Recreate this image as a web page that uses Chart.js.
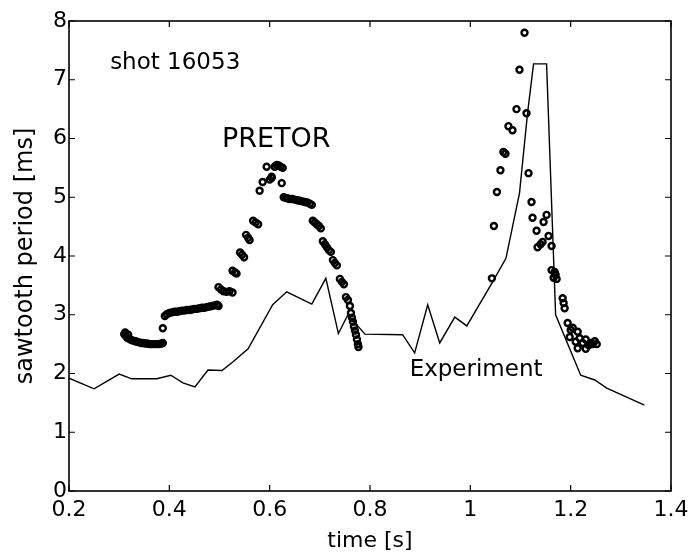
<!DOCTYPE html>
<html>
<head>
<meta charset="utf-8">
<script src="https://cdn.jsdelivr.net/npm/chart.js@4/dist/chart.umd.min.js"></script>
<style>
  html, body { margin: 0; padding: 0; background: #fff; }
  #wrap { width: 695px; height: 556px; }
</style>
</head>
<body>
<div id="wrap"><canvas id="sawtooth-chart" width="695" height="556"></canvas></div>
<script>
// Axis ticks
const xTicks = [0.2, 0.4, 0.6, 0.8, 1, 1.2, 1.4];
const yTicks = [0, 1, 2, 3, 4, 5, 6, 7, 8];

// Experiment (solid line)
const expTime = [0.200, 0.250, 0.300, 0.325, 0.375, 0.403, 0.427, 0.451, 0.477, 0.505,
    0.527, 0.557, 0.606, 0.634, 0.684, 0.712, 0.737, 0.756, 0.790, 0.865,
    0.889, 0.915, 0.939, 0.969, 0.993, 1.043, 1.071, 1.098, 1.114, 1.126,
    1.152, 1.170, 1.220, 1.248, 1.272, 1.347];
const expPeriod = [1.92, 1.74, 1.99, 1.91, 1.91, 1.97, 1.84, 1.77, 2.06, 2.05,
    2.20, 2.42, 3.17, 3.39, 3.18, 3.62, 2.68, 3.00, 2.67, 2.66,
    2.35, 3.17, 2.52, 2.96, 2.81, 3.54, 3.96, 5.07, 6.43, 7.27,
    7.27, 3.00, 1.97, 1.89, 1.75, 1.46];

// PRETOR simulation (open circles)
const pretorTime = [
    // first cluster
    0.310, 0.312, 0.313, 0.316, 0.318, 0.320, 0.324, 0.328, 0.332, 0.336, 0.340, 0.344,
    0.348, 0.352, 0.356, 0.360, 0.364, 0.368, 0.372, 0.376, 0.380, 0.384, 0.387,
    0.387,
    // second cluster
    0.391, 0.395, 0.400, 0.405, 0.410, 0.415, 0.420, 0.425, 0.430, 0.435, 0.440, 0.445,
    0.450, 0.455, 0.460, 0.465, 0.470, 0.475, 0.480, 0.485, 0.490, 0.495, 0.498,
    // rise
    0.498, 0.503, 0.508, 0.514, 0.520, 0.526,
    0.526, 0.531, 0.534,
    0.541, 0.545, 0.549,
    0.553, 0.557, 0.560,
    0.567, 0.572, 0.577,
    // first peak
    0.580, 0.586, 0.594, 0.600, 0.604, 0.604, 0.610, 0.614, 0.618, 0.622, 0.626, 0.624,
    // fall
    0.628, 0.632, 0.636, 0.640, 0.645, 0.650, 0.655, 0.660, 0.665, 0.670, 0.675, 0.680, 0.684,
    0.686, 0.690, 0.694, 0.698, 0.702,
    0.706, 0.710, 0.714, 0.718, 0.722,
    0.726, 0.730, 0.734,
    0.740, 0.744, 0.748,
    0.752, 0.756, 0.760,
    0.762, 0.764, 0.766, 0.768, 0.770, 0.772, 0.774, 0.776, 0.777,
    // second peak
    1.043, 1.047, 1.053, 1.060, 1.066, 1.070, 1.076, 1.084, 1.092, 1.098, 1.108, 1.112,
    1.116, 1.122, 1.124, 1.132, 1.134, 1.140, 1.144, 1.146, 1.152, 1.156, 1.162,
    // decay
    1.162, 1.166, 1.168, 1.170, 1.172,
    1.184, 1.186, 1.188,
    1.194, 1.200, 1.204, 1.198, 1.210, 1.214, 1.218, 1.224, 1.230, 1.236, 1.240, 1.244,
    1.248, 1.252, 1.214, 1.230
];
const pretorPeriod = [
    2.67, 2.70, 2.64, 2.61, 2.66, 2.59, 2.57, 2.56, 2.55, 2.54, 2.53, 2.52,
    2.52, 2.51, 2.51, 2.50, 2.50, 2.50, 2.50, 2.50, 2.50, 2.51, 2.52,
    2.77,
    2.98, 3.01, 3.03, 3.04, 3.05, 3.05, 3.06, 3.07, 3.07, 3.08, 3.08, 3.09,
    3.10, 3.10, 3.11, 3.12, 3.12, 3.13, 3.14, 3.15, 3.16, 3.17, 3.15,
    3.47, 3.43, 3.40, 3.39, 3.40, 3.38,
    3.75, 3.72, 3.70,
    4.06, 4.02, 3.98,
    4.36, 4.31, 4.27,
    4.60, 4.57, 4.54,
    5.11, 5.26, 5.52, 5.30, 5.35, 5.33, 5.52, 5.55, 5.54, 5.52, 5.50, 5.24,
    5.00, 4.99, 4.98, 4.97, 4.97, 4.96, 4.95, 4.94, 4.93, 4.92, 4.91, 4.89, 4.87,
    4.60, 4.57, 4.54, 4.51, 4.47,
    4.25, 4.20, 4.15, 4.10, 4.07,
    3.93, 3.88, 3.84,
    3.61, 3.56, 3.52,
    3.30, 3.25, 3.15,
    3.03, 2.95, 2.88, 2.80, 2.73, 2.66, 2.58, 2.50, 2.45,
    3.62, 4.51, 5.09, 5.46, 5.77, 5.74, 6.21, 6.14, 6.50, 7.17, 7.80, 6.43,
    5.41, 4.92, 4.65, 4.43, 4.15, 4.20, 4.24, 4.58, 4.70, 4.34, 4.17,
    3.76, 3.63, 3.73, 3.68, 3.61,
    3.28, 3.20, 3.11,
    2.86, 2.74, 2.78, 2.62, 2.54, 2.71, 2.60, 2.52, 2.58, 2.48, 2.52, 2.50,
    2.55, 2.50, 2.43, 2.42
];

// Text labels placed in data coordinates
const notes = [
    { text: 'shot 16053', x: 0.282, y: 7.18, size: 23 },
    { text: 'PRETOR', x: 0.505, y: 5.855, size: 27 },
    { text: 'Experiment', x: 0.879, y: 1.96, size: 23 }
];

const FONT = "'DejaVu Sans', sans-serif";

const toPoints = (xs, ys) => xs.map((x, i) => ({ x: x, y: ys[i] }));

// Box around the plot with inward tick marks on all four sides
const frameTicks = {
    id: 'frameTicks',
    afterDraw(chart) {
        const { ctx, chartArea: a, scales } = chart;
        const len = 6;
        ctx.save();
        ctx.strokeStyle = '#000';
        ctx.lineWidth = 1.6;
        ctx.strokeRect(a.left, a.top, a.right - a.left, a.bottom - a.top);
        ctx.lineWidth = 1.2;
        ctx.beginPath();
        xTicks.forEach(v => {
            const px = scales.x.getPixelForValue(v);
            ctx.moveTo(px, a.bottom); ctx.lineTo(px, a.bottom - len);
            ctx.moveTo(px, a.top); ctx.lineTo(px, a.top + len);
        });
        yTicks.forEach(v => {
            const py = scales.y.getPixelForValue(v);
            ctx.moveTo(a.left, py); ctx.lineTo(a.left + len, py);
            ctx.moveTo(a.right, py); ctx.lineTo(a.right - len, py);
        });
        ctx.stroke();

        ctx.fillStyle = '#000';
        ctx.textAlign = 'left';
        ctx.textBaseline = 'alphabetic';
        notes.forEach(n => {
            ctx.font = `${n.size}px ${FONT}`;
            ctx.fillText(n.text, scales.x.getPixelForValue(n.x), scales.y.getPixelForValue(n.y));
        });
        ctx.restore();
    }
};

const ctx = document.getElementById('sawtooth-chart').getContext('2d');

new Chart(ctx, {
    type: 'scatter',
    data: {
        datasets: [
            {
                label: 'Experiment',
                data: toPoints(expTime, expPeriod),
                showLine: true,
                borderColor: '#000',
                borderWidth: 1.4,
                pointRadius: 0,
                tension: 0
            },
            {
                label: 'PRETOR',
                data: toPoints(pretorTime, pretorPeriod),
                showLine: false,
                pointStyle: 'circle',
                pointRadius: 3,
                pointBorderWidth: 2.4,
                borderColor: '#000',
                backgroundColor: 'rgba(255,255,255,0)'
            }
        ]
    },
    options: {
        responsive: false,
        animation: false,
        devicePixelRatio: 1,
        layout: { padding: { top: 21, right: 24, left: 0, bottom: 0 } },
        plugins: {
            legend: { display: false },
            tooltip: { enabled: false }
        },
        scales: {
            x: {
                type: 'linear',
                min: 0.2,
                max: 1.4,
                afterFit: (scale) => { scale.height = 65; },
                afterBuildTicks: (scale) => { scale.ticks = xTicks.map(v => ({ value: v })); },
                grid: { display: false, drawTicks: false },
                border: { display: false },
                ticks: {
                    color: '#000',
                    padding: 6,
                    maxRotation: 0,
                    autoSkip: false,
                    font: { family: FONT, size: 22 },
                    callback: (v) => String(Math.round(v * 10) / 10)
                },
                title: {
                    display: true,
                    text: 'time [s]',
                    color: '#000',
                    font: { family: FONT, size: 22 },
                    padding: { top: 0, bottom: 2 }
                }
            },
            y: {
                type: 'linear',
                min: 0,
                max: 8,
                afterFit: (scale) => { scale.width = 69; },
                afterBuildTicks: (scale) => { scale.ticks = yTicks.map(v => ({ value: v })); },
                grid: { display: false, drawTicks: false },
                border: { display: false },
                ticks: {
                    color: '#000',
                    padding: 2,
                    autoSkip: false,
                    font: { family: FONT, size: 22 },
                    callback: (v) => String(v)
                },
                title: {
                    display: true,
                    text: 'sawtooth period [ms]',
                    color: '#000',
                    font: { family: FONT, size: 24 },
                    padding: { top: 11, bottom: 0 }
                }
            }
        }
    },
    plugins: [frameTicks]
});
</script>
</body>
</html>
